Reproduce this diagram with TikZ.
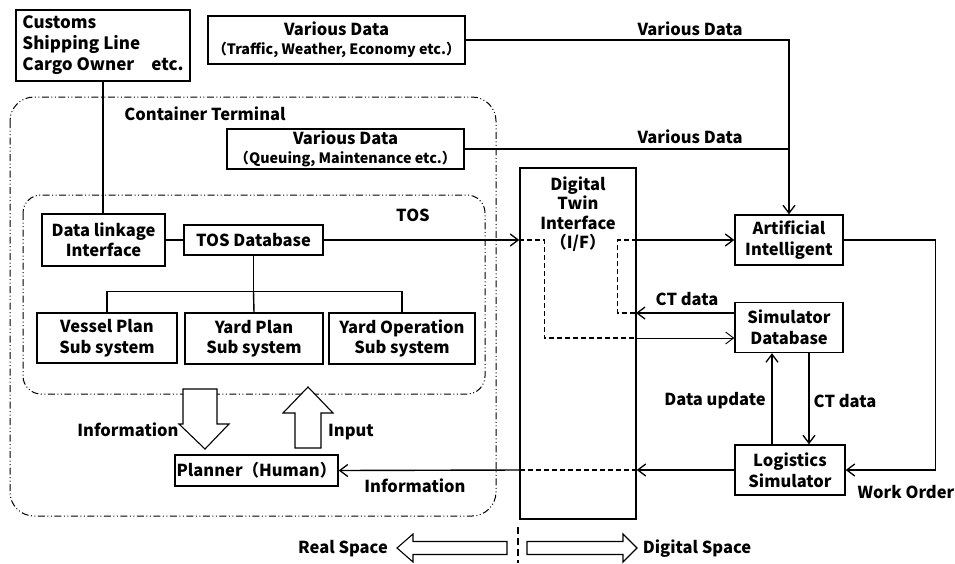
\documentclass[tikz,border=0pt]{standalone}
\usepackage{fontspec}
\setmainfont{Noto Sans CJK JP}
\usetikzlibrary{arrows.meta}
\begin{document}
\begin{tikzpicture}[x=1pt,y=-1pt,
  font=\bfseries\fontsize{16.5}{20.5}\selectfont,
  box/.style={draw, line width=1.4pt, inner sep=1pt, align=center},
  conn/.style={line width=1.4pt},
  arr/.style={line width=1.4pt, -{Straight Barb[length=8pt,width=12pt,line width=1.3pt]}},
  thinarr/.style={line width=0.9pt, -{Straight Barb[length=8pt,width=12pt,line width=0.9pt]}},
  dsh/.style={line width=1.4pt, dash pattern=on 5pt off 3pt},
  region/.style={line width=1pt, rounded corners=24pt,
    dash pattern=on 7pt off 2.5pt on 1pt off 2.5pt on 1pt off 2.5pt},
  hollow/.style={draw, line width=1.1pt, fill=white},
  lbl/.style={inner sep=0pt}
]
\useasboundingbox (0,0) rectangle (955,563);

% regions
\draw[region] (10,97) rectangle (496,516);
\draw[region, rounded corners=18pt] (23,195) rectangle (485,394);
\node[lbl] (ctlbl) at (205,114) {Container Terminal};
\node[lbl] (toslbl) at (413,215) {TOS};

% boxes
\node[box, minimum width=174pt, minimum height=71pt, align=left, font=\bfseries\fontsize{17}{21}\selectfont] (customs) at (103,45.5) {Customs\\Shipping Line\\Cargo Owner\quad etc.};
\node[box, minimum width=257pt, minimum height=48pt] (vd1) at (336.5,40) {Various Data\\[-2pt]{\fontsize{14.3}{18}\selectfont（Traffic, Weather, Economy etc.）}};
\node[box, minimum width=237pt, minimum height=40pt] (vd2) at (345.5,149) {Various Data\\[-2pt]{\fontsize{14.3}{18}\selectfont（Queuing, Maintenance etc.）}};
\node[box, minimum width=123pt, minimum height=52pt] (dli) at (103.5,240) {Data linkage\\Interface};
\node[box, minimum width=139pt, minimum height=30pt] (tosdb) at (253.5,240) {TOS Database};
\node[box, minimum width=140pt, minimum height=50pt] (vessel) at (107,338) {Vessel Plan\\Sub system};
\node[box, minimum width=138pt, minimum height=51pt] (yardplan) at (254,338.5) {Yard Plan\\Sub system};
\node[box, minimum width=146pt, minimum height=51pt] (yardop) at (402,338.5) {Yard Operation\\Sub system};
\node[box, minimum width=163pt, minimum height=31pt] (planner) at (256.5,470.5) {Planner（Human）};
\node[box, minimum width=116pt, minimum height=351pt] (dt) at (578,343.5) {};
\node[lbl, align=center, font=\bfseries\fontsize{16.5}{19.5}\selectfont] (dtlbl) at (578,214) {Digital\\Twin\\Interface\\（I/F）};
\node[box, minimum width=108pt, minimum height=50pt] (ai) at (789,240) {Artificial\\Intelligent};
\node[box, minimum width=108pt, minimum height=50pt] (simdb) at (789,327.5) {Simulator\\Database};
\node[box, minimum width=110pt, minimum height=50pt] (logsim) at (790,470) {Logistics\\Simulator};

% coordinates on the digital twin box
\coordinate (dtA) at (dt.east |- ai.west);
\coordinate (dtC) at (636,313);
\coordinate (dtB) at (636,338);

% TOS connectors
\draw[conn] (customs.south) -- (customs.south |- dli.north);
\draw[conn] (dli.east) -- (tosdb.west);
\draw[arr] (tosdb.east) -- (tosdb.east -| dt.west);
\draw[conn] (tosdb.south) -- ++(0,36) coordinate (tj);
\draw[conn] (vessel.north) |- (tj) -| (yardop.north);
\draw[conn] (tj) -- (yardplan.north);

% various data
\draw[arr] (vd1.east) -| (ai.north);
\draw[conn] (vd2.east) -- (vd2.east -| ai.north);
\node[lbl] (vdl1) at (690,29) {Various Data};
\node[lbl] (vdl2) at (690,137) {Various Data};

% digital twin links
\draw[arr] (dtA) -- (ai.west);
\draw[dsh] (dtA) -- ++(-19,0) |- (dtC);
\draw[arr] ([yshift=14.5pt]simdb.west) -- (dtC);
\node[lbl] (ctl1) at (687,299) {CT data};
\draw[dsh] (dt.west |- tosdb.east) -- ++(25,0) |- (dtB);
\draw[thinarr] (dtB) -- (dtB -| simdb.west);

% right loop
\draw[arr] (ai.east) -- ++(92,0) |- (logsim.east);
\node[lbl] (wo) at (906,492) {Work Order};
\draw[arr] ([xshift=-18pt]logsim.north) -- ([xshift=-18pt]logsim.north |- simdb.south);
\draw[arr] ([xshift=20pt]simdb.south) -- ([xshift=20pt]simdb.south |- logsim.north);
\node[lbl] (du) at (715,401) {Data update};
\node[lbl] (ctl2) at (845,401) {CT data};

% information back to planner
\draw[arr] (logsim.west) -- (logsim.west -| dt.east);
\draw[dsh] (logsim.west -| dt.east) -- (logsim.west -| dt.west);
\draw[arr] (logsim.west -| dt.west) -- (planner.east);
\node[lbl] (inf2) at (415,486) {Information};

% hollow arrows planner
\draw[hollow] (183,389) -- (217,389) -- (217,424) -- (229,424) -- (205,449) -- (179,424) -- (183,424) -- cycle;
\draw[hollow] (295,448) -- (321,448) -- (321,413) -- (333,413) -- (308,387) -- (283,413) -- (295,413) -- cycle;
\node[lbl] (inf1) at (128,430) {Information};
\node[lbl] (inp) at (351,432) {Input};

% real / digital space
\draw[line width=2.5pt, dash pattern=on 7pt off 4pt] (518,527) -- (518,563);
\draw[hollow] (507,541.5) -- (413,541.5) -- (413,534) -- (397,548) -- (413,562) -- (413,554.5) -- (507,554.5) -- cycle;
\draw[hollow] (527,541.5) -- (623,541.5) -- (623,534) -- (637,548) -- (623,562) -- (623,554.5) -- (527,554.5) -- cycle;
\node[lbl] (rs) at (343,549) {Real Space};
\node[lbl] (ds) at (697,549) {Digital Space};
\end{tikzpicture}
\end{document}
